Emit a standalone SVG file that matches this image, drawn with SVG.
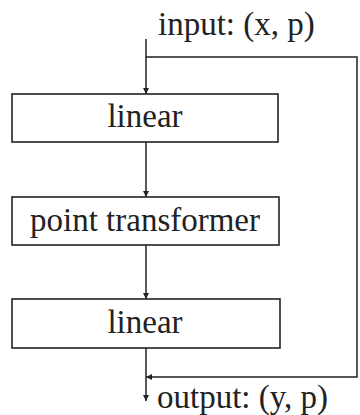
<svg xmlns="http://www.w3.org/2000/svg" width="360" height="415" viewBox="0 0 360 415">
  <style>
    .box { fill: #ffffff; stroke: #222222; stroke-width: 1.6; }
    .lbl { font-family: "Liberation Serif", "Times New Roman", serif; font-size: 33px; fill: #222222; }
    .wire { fill: none; stroke: #222222; stroke-width: 1.5; }
  </style>
  <defs>
    <marker id="arrow" viewBox="0 0 10 10" refX="10" refY="5" markerWidth="6" markerHeight="6" markerUnits="userSpaceOnUse" orient="auto">
      <path d="M0,0 L10,5 L0,10 Z" fill="#222222"/>
    </marker>
  </defs>
  <rect width="360" height="415" fill="#ffffff"/>

  <g id="connectors">
    <!-- input into first linear -->
    <line class="wire" x1="146" y1="39" x2="146" y2="94" marker-end="url(#arrow)"/>
    <!-- skip path around the stack -->
    <polyline class="wire" points="146,57 357,57 357,377 146,377" marker-end="url(#arrow)"/>
    <line class="wire" x1="146" y1="142" x2="146" y2="197" marker-end="url(#arrow)"/>
    <line class="wire" x1="146" y1="245" x2="146" y2="299" marker-end="url(#arrow)"/>
    <!-- output -->
    <line class="wire" x1="146" y1="348" x2="146" y2="401" marker-end="url(#arrow)"/>
  </g>

  <g id="input-label">
    <text class="lbl" x="158" y="35">input: (x, p)</text>
  </g>

  <g id="linear-1">
    <rect class="box" x="12" y="94" width="266" height="48"/>
    <text class="lbl" x="145" y="127" text-anchor="middle">linear</text>
  </g>

  <g id="point-transformer">
    <rect class="box" x="12" y="197" width="267" height="48"/>
    <text class="lbl" x="145" y="231" text-anchor="middle">point transformer</text>
  </g>

  <g id="linear-2">
    <rect class="box" x="12" y="299" width="268" height="49"/>
    <text class="lbl" x="145" y="333" text-anchor="middle">linear</text>
  </g>

  <g id="output-label">
    <text class="lbl" x="157" y="408">output: (y, p)</text>
  </g>
</svg>
